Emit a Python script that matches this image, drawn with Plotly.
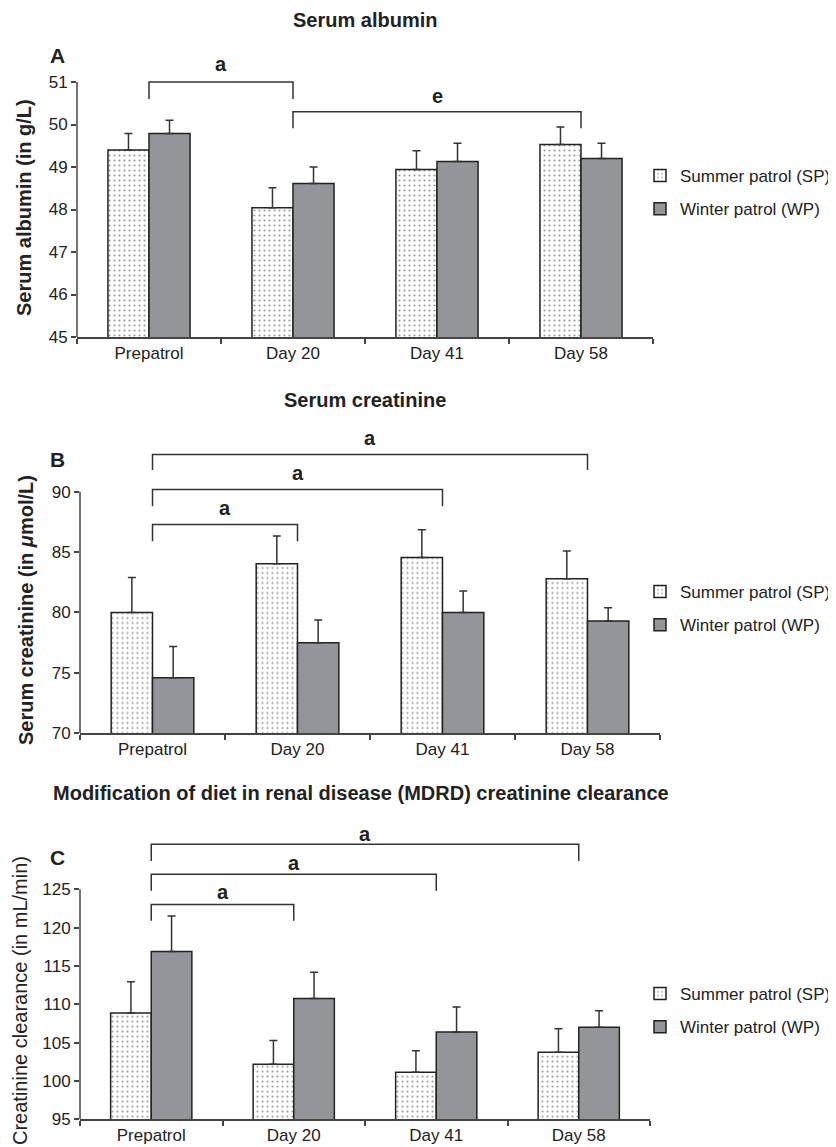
import plotly.graph_objects as go

# Browser page keeps its default 8px body margin, so the figure is sized and
# positioned to land on the 836x1147 window.
OFF = 8
W, H = 836 - OFF, 1147 - OFF

categories = ["Prepatrol", "Day 20", "Day 41", "Day 58"]
series_names = ["Summer patrol (SP)", "Winter patrol (WP)"]

# Panel A: serum albumin (g/L)
albumin_sp = [49.4, 48.04, 48.94, 49.53]
albumin_sp_err = [0.39, 0.47, 0.44, 0.41]
albumin_wp = [49.79, 48.61, 49.13, 49.2]
albumin_wp_err = [0.31, 0.39, 0.43, 0.36]
albumin_ticks = [45, 46, 47, 48, 49, 50, 51]

# Panel B: serum creatinine (umol/L)
creat_sp = [80.0, 84.03, 84.55, 82.79]
creat_sp_err = [2.9, 2.3, 2.3, 2.3]
creat_wp = [74.58, 77.48, 80.0, 79.28]
creat_wp_err = [2.6, 1.9, 1.77, 1.1]
creat_ticks = [70, 75, 80, 85, 90]

# Panel C: MDRD creatinine clearance (mL/min)
clear_sp = [108.85, 102.17, 101.13, 103.74]
clear_sp_err = [4.1, 3.1, 2.8, 3.08]
clear_wp = [116.9, 110.74, 106.39, 107.0]
clear_wp_err = [4.6, 3.43, 3.26, 2.17]
clear_ticks = [95, 100, 105, 110, 115, 120, 125]

# significance brackets: (from category index, to category index, label)
brackets_A = [(0, 1, "a"), (1, 3, "e")]
brackets_B = [(0, 1, "a"), (0, 2, "a"), (0, 3, "a")]
brackets_C = [(0, 1, "a"), (0, 2, "a"), (0, 3, "a")]

titles = ["Serum albumin", "Serum creatinine",
          "Modification of diet in renal disease (MDRD) creatinine clearance"]
ytitles = ["<b>Serum albumin (in g/L)</b>",
           "<b>Serum creatinine (in <i>μ</i>mol/L)</b>",
           "Creatinine clearance (in mL/min)"]
letters = ["A", "B", "C"]

FONT = "Arial, Liberation Sans, sans-serif"
TXT = "#222222"
AX = "#444444"
GRAY = "#939598"


def py(ypx):
    return (H - (ypx - OFF)) / H


def px(xpx):
    return (xpx - OFF) / W


# layout geometry per panel (window pixels)
panels = [
    dict(sp=albumin_sp, spe=albumin_sp_err, wp=albumin_wp, wpe=albumin_wp_err,
         ticks=albumin_ticks, yr=[45, 51.8], x0=77, x1=653, ybot=337, ytop=48,
         br=brackets_A,
         br_levels=[(51.0, 50.6, 51.42), (50.3, 49.91, 50.68)],
         title_y=20, letter_y=55, ytitle_x=24, ytitle_y=208,
         leg_y=158),
    dict(sp=creat_sp, spe=creat_sp_err, wp=creat_wp, wpe=creat_wp_err,
         ticks=creat_ticks, yr=[70, 95.5], x0=80, x1=660, ybot=733, ytop=425.5,
         br=brackets_B,
         br_levels=[(87.3, 85.9, 88.65), (90.2, 88.8, 91.55), (93.1, 91.8, 94.45)],
         title_y=400, letter_y=459, ytitle_x=26, ytitle_y=610,
         leg_y=574),
    dict(sp=clear_sp, spe=clear_sp_err, wp=clear_wp, wpe=clear_wp_err,
         ticks=clear_ticks, yr=[95, 133.5], x0=80, x1=650, ybot=1119.3, ytop=824.1,
         br=brackets_C,
         br_levels=[(123.0, 120.9, 124.6), (126.96, 124.8, 128.45), (130.87, 128.7, 132.25)],
         title_y=793, letter_y=857, ytitle_x=20, ytitle_y=1001,
         leg_y=976),
]

title_x = [365, 365, 361]

fig = go.Figure()
layout_upd = {}
annotations = []
shapes = []

for i, p in enumerate(panels):
    sfx = "" if i == 0 else str(i + 1)
    xa, ya = "x" + sfx, "y" + sfx
    leg = "legend" + sfx

    fig.add_trace(go.Bar(
        x=categories, y=p["sp"], name=series_names[0], xaxis=xa, yaxis=ya,
        legend=leg, legendgroup="sp" + sfx,
        marker=dict(color="white",
                    pattern=dict(shape=".", fgcolor="#333333", bgcolor="white",
                                 size=5, solidity=0.15),
                    line=dict(color="#222222", width=1.5)),
        error_y=dict(type="data", symmetric=False, array=p["spe"],
                     arrayminus=[0] * len(p["spe"]), color="#333333",
                     thickness=1.5, width=4),
        hoverinfo="skip"))
    fig.add_trace(go.Bar(
        x=categories, y=p["wp"], name=series_names[1], xaxis=xa, yaxis=ya,
        legend=leg, legendgroup="wp" + sfx,
        marker=dict(color=GRAY, line=dict(color="#222222", width=1.5)),
        error_y=dict(type="data", symmetric=False, array=p["wpe"],
                     arrayminus=[0] * len(p["wpe"]), color="#333333",
                     thickness=1.5, width=4),
        hoverinfo="skip"))

    # brackets
    for (a, b, lab), (top, leg_bot, lab_y) in zip(p["br"], p["br_levels"]):
        fig.add_trace(go.Scatter(
            x=[categories[a], categories[a], categories[b], categories[b]],
            y=[leg_bot, top, top, leg_bot], mode="lines",
            line=dict(color="#333333", width=1.5), xaxis=xa, yaxis=ya,
            showlegend=False, hoverinfo="skip"))
        annotations.append(dict(x=(a + b) / 2, y=lab_y, xref=xa, yref=ya,
                                text="<b>%s</b>" % lab, showarrow=False,
                                font=dict(size=20, color=TXT, family=FONT),
                                xanchor="center", yanchor="middle"))

    # y axis line only up to the last tick
    shapes.append(dict(type="line", xref=xa + " domain", yref=ya,
                       x0=0, x1=0, y0=p["ticks"][0], y1=p["ticks"][-1],
                       line=dict(color=AX, width=1.5)))

    layout_upd["xaxis" + sfx] = dict(
        domain=[px(p["x0"]), px(p["x1"])], anchor=ya, type="category",
        showline=True, linecolor=AX, linewidth=1.5, ticks="outside",
        tickson="boundaries", ticklen=5, tickcolor=AX, tickwidth=1.5,
        showgrid=False, zeroline=False, automargin=False,
        tickfont=dict(size=17, color=TXT, family=FONT))
    layout_upd["yaxis" + sfx] = dict(
        domain=[py(p["ybot"]), py(p["ytop"])], anchor=xa, range=p["yr"],
        tickvals=p["ticks"], showline=False, ticks="outside", ticklen=5,
        tickcolor=AX, tickwidth=1.5, showgrid=False, zeroline=False,
        automargin=False, tickfont=dict(size=17, color=TXT, family=FONT))

    layout_upd[leg] = dict(
        x=px(640), y=py(p["leg_y"]), xanchor="left", yanchor="top",
        font=dict(size=17, color=TXT, family=FONT), bgcolor="rgba(0,0,0,0)",
        tracegroupgap=8, itemwidth=30)

    annotations.append(dict(x=px(title_x[i]), y=py(p["title_y"]), xref="paper",
                            yref="paper", text="<b>%s</b>" % titles[i],
                            showarrow=False, xanchor="center", yanchor="middle",
                            font=dict(size=20, color=TXT, family=FONT)))
    annotations.append(dict(x=px(57), y=py(p["letter_y"]), xref="paper",
                            yref="paper", text="<b>%s</b>" % letters[i],
                            showarrow=False, xanchor="center", yanchor="middle",
                            font=dict(size=21, color=TXT, family=FONT)))
    annotations.append(dict(x=px(p["ytitle_x"]), y=py(p["ytitle_y"]), xref="paper",
                            yref="paper", text=ytitles[i], textangle=-90,
                            showarrow=False, xanchor="center", yanchor="middle",
                            font=dict(size=20, color=TXT, family=FONT)))

fig.update_layout(
    width=W, height=H, paper_bgcolor="white", plot_bgcolor="white",
    margin=dict(l=0, r=0, t=0, b=0, autoexpand=False),
    barmode="group", bargap=0.43, bargroupgap=0,
    font=dict(family=FONT, color=TXT),
    annotations=annotations, shapes=shapes, **layout_upd)

fig.write_html("out.html")
